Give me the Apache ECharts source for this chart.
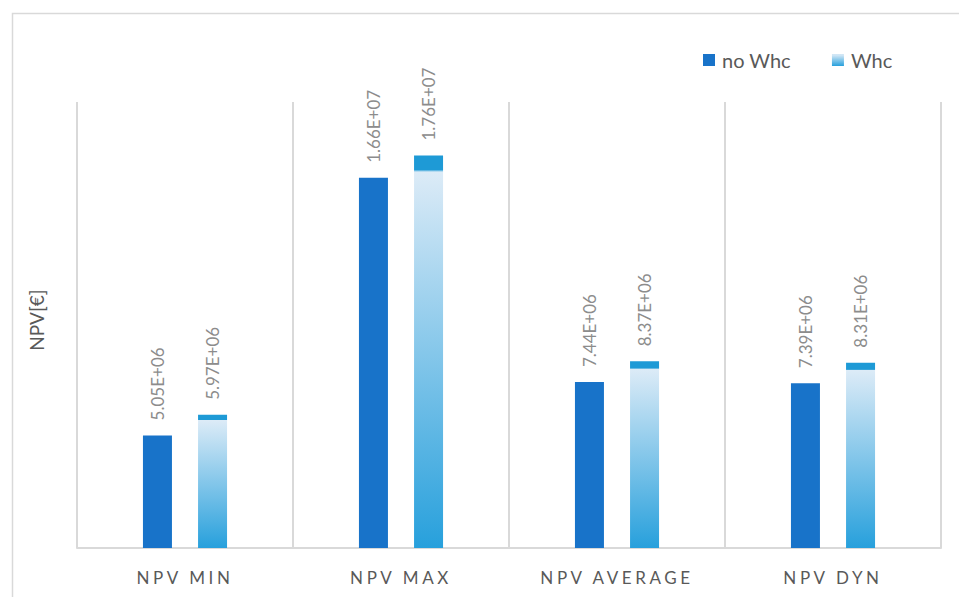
<!DOCTYPE html>
<html>
<head>
<meta charset="utf-8">
<script src="https://cdn.jsdelivr.net/npm/echarts@6/dist/echarts.min.js"></script>
<style>
html,body{margin:0;padding:0;background:#fff;}
#c{width:959px;height:597px;}
#c text[style*="sans-serif"], #c text[font-family*="sans-serif"] { letter-spacing: 3.6px; }
</style>
</head>
<body>
<div id="c"></div>
<script>
var categories = ['NPV MIN', 'NPV MAX', 'NPV AVERAGE', 'NPV DYN'];
var noWhc = [5.05e6, 1.66e7, 7.44e6, 7.39e6];
var whc = [5.97e6, 1.76e7, 8.37e6, 8.31e6];
var seriesNames = ['no Whc', 'Whc'];
var yAxisName = 'NPV[€]';

function fmt(v) {
  var s = v.toExponential(2).toUpperCase();
  return s.replace(/E([+-])(\d)$/, 'E$10$2');
}

var chart = echarts.init(document.getElementById('c'), null, { renderer: 'svg' });
var labelCfg = {
  show: true, position: 'top', rotate: 90, align: 'left', verticalAlign: 'middle',
  distance: 15, color: '#8c8c8c', fontSize: 17, fontFamily: 'Lato',
  formatter: function (p) { return fmt(p.value); }
};
chart.setOption({
  animation: false,
  graphic: [{
    type: 'rect', left: 10, top: 11, shape: { width: 1000, height: 700 },
    style: { fill: 'none', stroke: '#d9d9d9', lineWidth: 1.5 }, silent: true
  }],
  legend: {
    left: 703, top: 50, padding: 0, itemWidth: 12, itemHeight: 12, itemGap: 41, icon: 'rect',
    textStyle: { color: '#595959', fontSize: 20, fontFamily: 'Lato', padding: [0, 0, 0, 2] },
    data: seriesNames
  },
  grid: { left: 77, right: 18, top: 102, bottom: 49 },
  xAxis: {
    type: 'category', data: categories,
    axisLine: { show: true, lineStyle: { color: '#d9d9d9', width: 2 } },
    axisTick: { show: false },
    splitLine: { show: true, interval: 0, lineStyle: { color: '#d9d9d9', width: 2 } },
    axisLabel: { color: '#595959', fontSize: 17, fontFamily: 'Lato, sans-serif', margin: 21 }
  },
  yAxis: {
    type: 'value', min: 0, max: 2e7,
    name: yAxisName, nameLocation: 'middle', nameGap: 31, nameRotate: 90,
    nameTextStyle: { color: '#595959', fontSize: 19, fontFamily: 'Lato', padding: [0, 0, 0, 10] },
    axisLine: { show: false }, axisTick: { show: false }, axisLabel: { show: false },
    splitLine: { show: false }
  },
  series: [{
    name: seriesNames[0], type: 'bar', data: noWhc, barWidth: 29, barGap: '90%',
    itemStyle: { color: '#1873c9' }, label: labelCfg
  }, {
    name: seriesNames[1], type: 'bar', data: whc, barWidth: 29,
    itemStyle: {
      color: new echarts.graphic.LinearGradient(0, 0, 0, 1, [
        { offset: 0, color: '#1e9ad6' },
        { offset: 0.036, color: '#1e9ad6' },
        { offset: 0.042, color: '#dcebf7' },
        { offset: 1, color: '#27a0dc' }
      ])
    },
    label: labelCfg
  }]
});
</script>
</body>
</html>
